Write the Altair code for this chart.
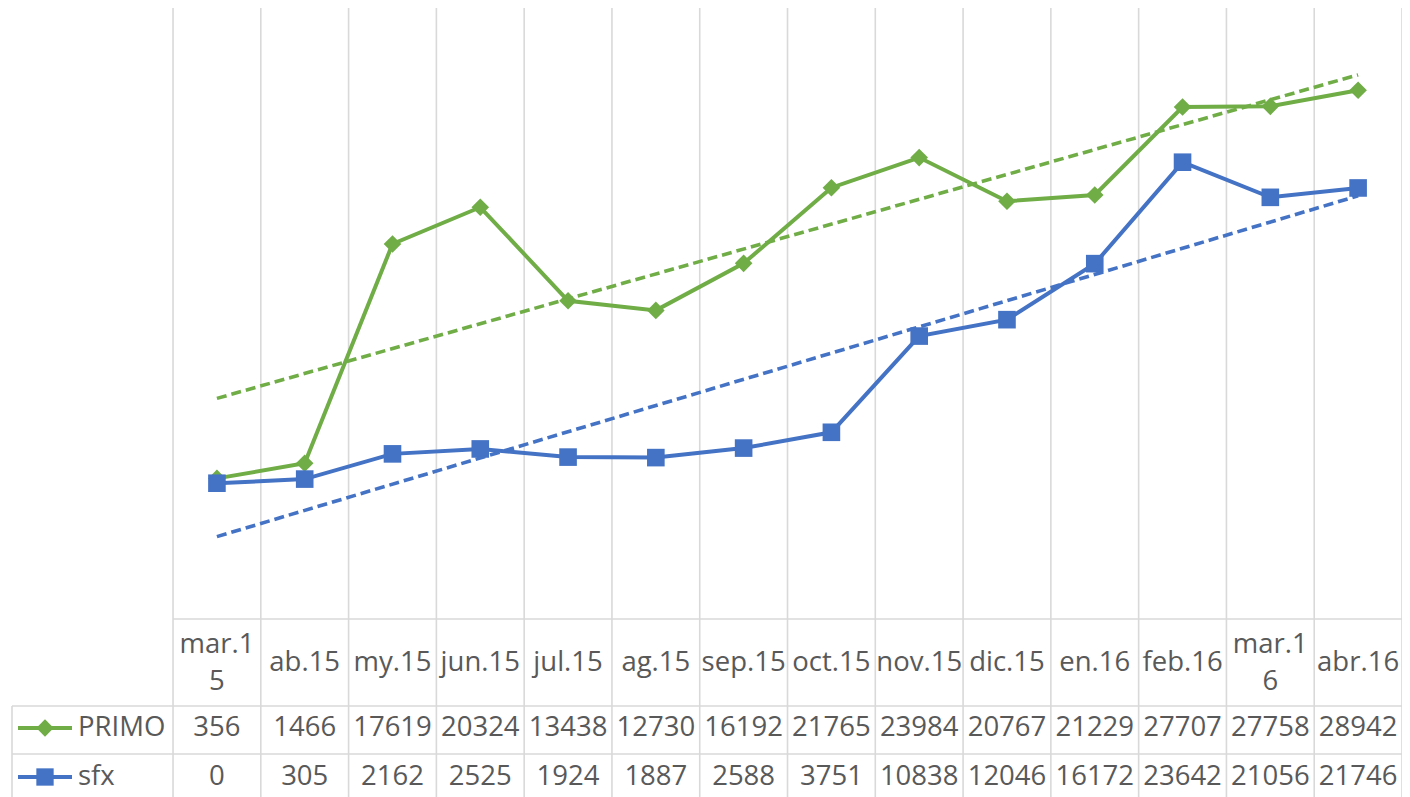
import altair as alt
import pandas as pd

categories = ["mar.15", "ab.15", "my.15", "jun.15", "jul.15", "ag.15", "sep.15",
              "oct.15", "nov.15", "dic.15", "en.16", "feb.16", "mar.16", "abr.16"]
cat_labels = ["mar.1\n5", "ab.15", "my.15", "jun.15", "jul.15", "ag.15", "sep.15",
              "oct.15", "nov.15", "dic.15", "en.16", "feb.16", "mar.1\n6", "abr.16"]
primo = [356, 1466, 17619, 20324, 13438, 12730, 16192, 21765, 23984, 20767, 21229, 27707, 27758, 28942]
sfx = [0, 305, 2162, 2525, 1924, 1887, 2588, 3751, 10838, 12046, 16172, 23642, 21056, 21746]
series_names = ["PRIMO", "sfx"]
series_colors = ["#70AD47", "#4472C4"]
series_shapes = ["diamond", "square"]

rows = []
for name, vals in zip(series_names, [primo, sfx]):
    for i, (c, lab, v) in enumerate(zip(categories, cat_labels, vals)):
        rows.append({"series": name, "cat": c, "label": lab, "idx": i, "value": v,
                     "multi": "\n" in lab})
df = pd.DataFrame(rows)
grid_df = pd.DataFrame({"k": list(range(len(categories) + 1))})
one = pd.DataFrame({"a": [0]})

FONT = "Open Sans"
FS = 27.5
TXT = "#595959"
GRID = "#D9D9D9"

W, H = 1394, 789
xscale = alt.Scale(domain=[-1.88, 14], nice=False, zero=False)
yscale = alt.Scale(domain=[-10000, 35000], range=[611, 0], nice=False, zero=False)
color = alt.Color("series:N", scale=alt.Scale(domain=series_names, range=series_colors), legend=None)
shape = alt.Shape("series:N", scale=alt.Scale(domain=series_names, range=series_shapes), legend=None)

base = alt.Chart(df).transform_calculate(pos="datum.idx + 0.5")
X = alt.X("pos:Q", scale=xscale, axis=None)
Y = alt.Y("value:Q", scale=yscale, axis=None)

# vertical gridlines / table column borders
vgrid = alt.Chart(grid_df).mark_rule(color=GRID, strokeWidth=1.6).encode(
    x=alt.X("k:Q", scale=xscale, axis=None), y=alt.value(-1), y2=alt.value(H)
)
hline_top = alt.Chart(one).mark_rule(color=GRID, strokeWidth=1.6).encode(
    x=alt.value(165), x2=alt.value(W), y=alt.value(611)
)
hline_r1 = alt.Chart(one).mark_rule(color=GRID, strokeWidth=1.6).encode(
    x=alt.value(4), x2=alt.value(W), y=alt.value(698)
)
hline_r2 = alt.Chart(one).mark_rule(color=GRID, strokeWidth=1.6).encode(
    x=alt.value(4), x2=alt.value(W), y=alt.value(746)
)
vline_left = alt.Chart(one).mark_rule(color=GRID, strokeWidth=1.6).encode(
    x=alt.value(4), y=alt.value(698), y2=alt.value(H)
)

lines = base.mark_line(strokeWidth=4).encode(x=X, y=Y, color=color, detail="series:N")
points = base.mark_point(filled=True, size=310, opacity=1).encode(x=X, y=Y, color=color, shape=shape)
trend = base.transform_regression("pos", "value", groupby=["series"]).mark_line(
    strokeWidth=3.6, strokeDash=[10, 5]
).encode(x=X, y=Y, color=color)

header_one = base.transform_filter(alt.datum.series == "PRIMO").transform_filter(
    "!datum.multi"
).mark_text(
    font=FONT, fontSize=FS, color=TXT, baseline="middle", align="center"
).encode(x=X, y=alt.value(655), text="label:N")
header_two = base.transform_filter(alt.datum.series == "PRIMO").transform_filter(
    "datum.multi"
).mark_text(
    font=FONT, fontSize=FS, color=TXT, lineBreak="\n", lineHeight=37, baseline="middle", align="center"
).encode(x=X, y=alt.value(637), text="label:N")

row_y = [720, 769]
table_layers = []
for name, col, shp, ry in zip(series_names, series_colors, series_shapes, row_y):
    table_layers.append(
        base.transform_filter(alt.datum.series == name).mark_text(
            font=FONT, fontSize=FS, color=TXT, baseline="middle", align="center"
        ).encode(x=X, y=alt.value(ry), text="value:Q")
    )
    table_layers.append(
        alt.Chart(one).mark_rule(color=col, strokeWidth=4).encode(
            x=alt.value(10), x2=alt.value(64), y=alt.value(ry)
        )
    )
    table_layers.append(
        alt.Chart(one).mark_point(filled=True, size=300, opacity=1, color=col, shape=shp).encode(
            x=alt.value(37), y=alt.value(ry)
        )
    )
    table_layers.append(
        alt.Chart(one).mark_text(
            font=FONT, fontSize=FS, color=TXT, baseline="middle", align="left", text=name
        ).encode(x=alt.value(70), y=alt.value(ry))
    )

chart = alt.layer(
    vgrid, hline_top, hline_r1, hline_r2, vline_left,
    lines, points, trend, header_one, header_two, *table_layers
).properties(
    width=W, height=H, padding=0, autosize=alt.AutoSizeParams(type="none")
).configure_view(stroke=None)

chart.save("out.html", embed_options={"renderer": "svg", "actions": False})
